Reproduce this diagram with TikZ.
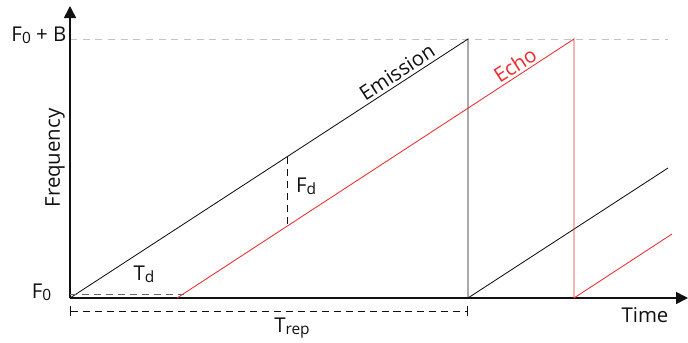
\documentclass[tikz,border=0pt]{standalone}
\usepackage{fontspec}
\setmainfont{Open Sans}
\usetikzlibrary{arrows.meta,positioning,calc}
\definecolor{echored}{HTML}{EE2B2B}
\definecolor{guide}{HTML}{C4C4C4}
\definecolor{ink}{HTML}{111111}
\definecolor{muted}{HTML}{666666}
\newcommand{\lowidx}[1]{\raisebox{-0.2ex}{\fontsize{11}{11}\selectfont #1}}
\tikzset{
  axis/.style={line width=1.1pt,color=ink,-{Triangle[length=3mm,width=3mm]}},
  ramp/.style={line width=0.6pt,color=ink},
  echoramp/.style={line width=0.6pt,color=echored},
  measure/.style={line width=0.7pt,dash pattern=on 5pt off 3.5pt},
  guideline/.style={line width=0.5pt,color=guide,dash pattern=on 5pt off 4pt},
  lbl/.style={font=\fontsize{14.5}{16}\selectfont,text=ink,inner sep=1pt},
}
\begin{document}
\begin{tikzpicture}[x=0.025cm,y=-0.025cm]
    \useasboundingbox (0,0) rectangle (688,342);
    \coordinate (O) at (70,298);
    \coordinate (ytip) at (70,6);
    \coordinate (xtip) at (688,298);
    \coordinate (top) at (468,39);
    \coordinate (base) at (468,298);
    \coordinate (next) at (668,168);
    \coordinate (estart) at (177,298);
    \coordinate (etop) at (574,39);
    \coordinate (ebase) at (574,298);
    \coordinate (enext) at (672,234);
    \coordinate (bandend) at (668,39);
    \coordinate (fdhi) at (287,157);
    \coordinate (fdlo) at (287,226);
    \coordinate (tdl) at (70,294);
    \coordinate (tdr) at (184,294);
    \coordinate (trl) at (70,311);
    \coordinate (trr) at (468,311);
    % level of F0 + B
    \draw[guideline] (O |- top) -- (bandend);
    \draw[axis] (O) -- (ytip);
    \draw[axis] (O) -- (xtip);
    % emission and echo ramps
    \draw[ramp] (O) -- (top) -- (base) -- (next);
    \draw[echoramp] (estart) -- (etop) -- (ebase) -- (enext);
    \draw[measure,muted] (tdl) -- (tdr);
    \draw[measure,ink] (fdhi) -- (fdlo);
    \draw[measure,ink,{Bar[width=2.6mm]}-{Bar[width=2.6mm]}] (trl) -- (trr);
    \node[lbl,anchor=east] (fbl) at (68,35) {F\lowidx{0} + B};
    \node[lbl,anchor=base east] (f0l) at (53,298) {F\lowidx{0}};
    \node[lbl,rotate=90] (freq) at (55,158) {Frequency};
    \node[lbl] (timel) at (645,315) {Time};
    \node[lbl] (trepl) at (292,328) {T\lowidx{rep}};
    \node[lbl] (tdlbl) at (144,274) {T\lowidx{d}};
    \node[lbl] (fdl) at (306,186) {F\lowidx{d}};
    \node[lbl,rotate=33] (eml) at (397,72) {Emission};
    \node[lbl,rotate=33,text=echored] (ecl) at (515,65) {Echo};
\end{tikzpicture}
\end{document}
